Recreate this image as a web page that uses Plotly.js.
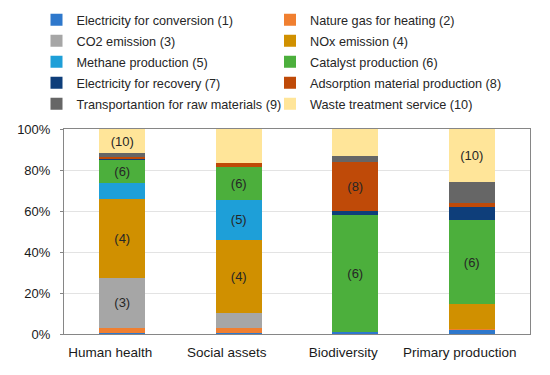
<!DOCTYPE html>
<html>
<head>
<meta charset="utf-8">
<script src="https://cdn.plot.ly/plotly-3.0.1.min.js"></script>
<style>html,body{margin:0;padding:0;background:#fff;}#chart{width:550px;height:375px;}</style>
</head>
<body>
<div id="chart"></div>
<script>
var categories = ['Human health', 'Social assets', 'Biodiversity', 'Primary production'];

var seriesNames = [
  'Electricity for conversion (1)',
  'Nature gas for heating (2)',
  'CO2 emission (3)',
  'NOx emission (4)',
  'Methane production (5)',
  'Catalyst production (6)',
  'Electricity for recovery (7)',
  'Adsorption material production (8)',
  'Transportantion for raw materials (9)',
  'Waste treatment service (10)'
];

var s1  = [0.3, 0.5, 1.0, 2.0];
var s2  = [2.7, 2.4, 0.0, 0.2];
var s3  = [24.5, 7.2, 0.0, 0.2];
var s4  = [38.5, 35.8, 0.0, 12.2];
var s5  = [7.7, 19.5, 0.0, 0.0];
var s6  = [11.4, 15.9, 57.2, 41.0];
var s7  = [0.3, 0.3, 1.6, 6.5];
var s8  = [0.8, 1.7, 23.9, 1.6];
var s9  = [2.0, 0.3, 2.9, 10.3];
var s10 = [11.8, 16.4, 13.4, 26.0];

var l1  = ['', '', '', ''];
var l2  = ['', '', '', ''];
var l3  = ['(3)', '', '', ''];
var l4  = ['(4)', '(4)', '', ''];
var l5  = ['', '(5)', '', ''];
var l6  = ['(6)', '(6)', '(6)', '(6)'];
var l7  = ['', '', '', ''];
var l8  = ['', '', '(8)', ''];
var l9  = ['', '', '', ''];
var l10 = ['(10)', '', '', '(10)'];

var seriesValues = [s1, s2, s3, s4, s5, s6, s7, s8, s9, s10];
var seriesLabels = [l1, l2, l3, l4, l5, l6, l7, l8, l9, l10];
var colors = ['#2E78CC', '#F07F30', '#A6A6A6', '#D09000', '#1E9FD8',
              '#4CAF3C', '#0E3E7A', '#BF4A08', '#666666', '#FFE599'];

var font = 'Liberation Sans, Arial, sans-serif';

function legendId(i) { return i === 0 ? 'legend' : 'legend' + (i + 1); }

var traces = seriesValues.map(function (vals, i) {
  return {
    type: 'bar',
    name: seriesNames[i],
    x: categories,
    y: vals,
    text: seriesLabels[i],
    textposition: 'inside',
    insidetextanchor: 'middle',
    textfont: {family: font, size: 13, color: '#262626'},
    marker: {color: colors[i], line: {width: 0}},
    legend: legendId(i),
    hoverinfo: 'name+y'
  };
});

var layout = {
  width: 550,
  height: 375,
  margin: {l: 64, r: 20, t: 129, b: 41},
  barmode: 'stack',
  bargap: 0.607,
  paper_bgcolor: '#ffffff',
  plot_bgcolor: '#ffffff',
  font: {family: font, color: '#262626'},
  showlegend: true,
  xaxis: {
    type: 'category',
    showgrid: false,
    showline: true,
    linecolor: '#868686',
    linewidth: 1,
    mirror: true,
    ticks: '',
    ticklabelstandoff: 6,
    ticklabelshift: -12,
    tickfont: {family: font, size: 13.5, color: '#1a1a1a'},
    fixedrange: true
  },
  yaxis: {
    range: [0, 100],
    dtick: 20,
    tick0: 0,
    ticksuffix: '%',
    showgrid: true,
    gridcolor: '#E3E3E3',
    gridwidth: 1,
    showline: true,
    linecolor: '#868686',
    linewidth: 1,
    mirror: true,
    ticks: 'outside',
    ticklen: 3,
    tickcolor: '#868686',
    ticklabelstandoff: 7,
    tickfont: {family: font, size: 13, color: '#1a1a1a'},
    zeroline: false,
    fixedrange: true
  }
};

var rowTops = [5, 26, 47, 68, 89];
var colX = [36.5, 270];
for (var i = 0; i < seriesNames.length; i++) {
  layout[legendId(i)] = {
    orientation: 'h',
    xref: 'container',
    yref: 'container',
    x: colX[i % 2] / 550,
    y: 1 - rowTops[Math.floor(i / 2)] / 375,
    xanchor: 'left',
    yanchor: 'top',
    font: {family: font, size: 12.7, color: '#262626'},
    bgcolor: 'rgba(0,0,0,0)'
  };
}

Plotly.newPlot('chart', traces, layout, {displayModeBar: false, staticPlot: true});
</script>
</body>
</html>
